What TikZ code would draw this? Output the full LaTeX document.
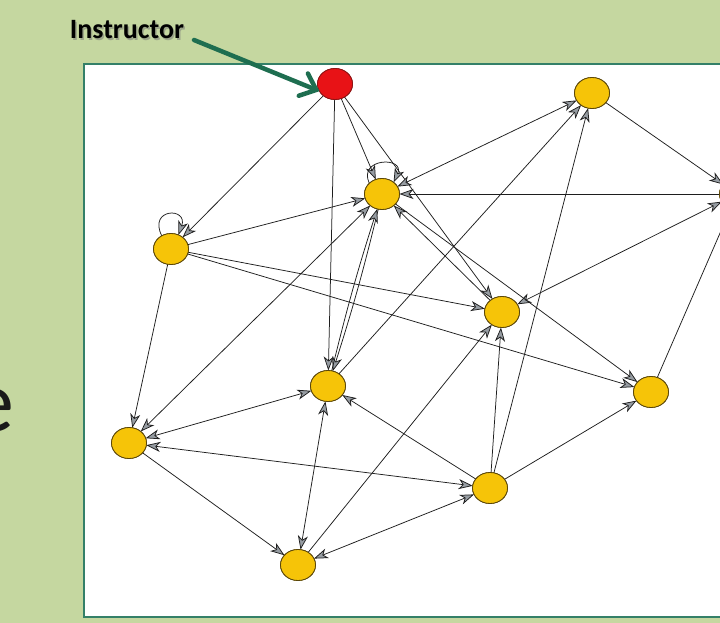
\documentclass[tikz,border=0pt]{standalone}
\usepackage{fontspec}
\newfontfamily\slidefont{Carlito}
\usetikzlibrary{arrows.meta,shapes.geometric}

\definecolor{slidegreen}{RGB}{197,215,160}
\definecolor{frameedge}{RGB}{52,128,104}
\definecolor{pointergreen}{RGB}{30,110,80}
\definecolor{nodeyellow}{RGB}{246,196,8}
\definecolor{nodeedge}{RGB}{90,70,10}
\definecolor{leadred}{RGB}{232,18,22}
\definecolor{leadedge}{RGB}{140,20,20}
\definecolor{edgeink}{RGB}{30,30,30}
\definecolor{headgray}{RGB}{150,156,162}
\definecolor{slidetext}{RGB}{25,25,25}

\begin{document}
\begin{tikzpicture}[x=1pt,y=-1pt,
  >={Stealth[length=14pt,width=10pt,inset=4pt,fill=headgray]},
  vertex/.style={ellipse, draw=nodeedge, line width=0.8pt, fill=nodeyellow,
    minimum width=35pt, minimum height=31pt, inner sep=0pt, outer sep=0pt},
  leadvertex/.style={vertex, fill=leadred, draw=leadedge},
  tie/.style={draw=edgeink, line width=0.75pt, line join=round}]

  \useasboundingbox (0,0) rectangle (720,623);
  \clip (0,0) rectangle (720,623);

  % slide background and white panel
  \fill[slidegreen] (0,0) rectangle (720,623);
  \filldraw[fill=white, draw=frameedge, line width=2pt] (84,64) rectangle (760,617);

  % tail of the slide body text
  \node[font=\slidefont\fontsize{88}{96}\selectfont, text=slidetext,
        anchor=base east, inner sep=0pt] (tailtext) at (14,431) {e};

  % vertices
  \node[leadvertex] (R) at (335,84) {};
  \node[vertex] (A) at (382,194) {};
  \node[vertex] (T) at (592,93) {};
  \node[vertex] (E) at (737,194) {};
  \node[vertex] (L) at (171,249) {};
  \node[vertex] (M) at (502,312) {};
  \node[vertex] (C) at (328,386) {};
  \node[vertex] (F) at (651,392) {};
  \node[vertex] (W) at (129,443) {};
  \node[vertex] (B) at (490,488) {};
  \node[vertex] (S) at (298,565) {};

  % directed links
  \begin{scope}[tie]
    \draw[->] (R) -- (L);
    \draw[->] (R) -- (C);
    \draw[->] (R) -- (A);
    \draw[->] (R) -- (M);
    \draw[->] (L) -- (A);
    \draw[->] (L) -- (M);
    \draw[->] (L) -- (F);
    \draw[->] (L) -- (W);
    \draw[->] (L.125) .. controls +(-14,-28) and +(10,-28) .. (L.62);
    \draw[->] (A.140) .. controls +(-12,-26) and +(12,-26) .. (A.45);
    \draw[<->] (A) -- (T);
    \draw[->] (E) -- (A);
    \draw[->] (T) -- (E);
    \draw[<->] (M) -- (E);
    \draw[->] (F) -- (E);
    \draw[->] (M) -- (A);
    \draw[->] (A) -- (F);
    \draw[->] (A) to[bend left=2] (C);
    \draw[->] (C) to[bend left=2] (A);
    \draw[<->] (A) -- (W);
    \draw[->] (C) -- (T);
    \draw[<->] (W) -- (C);
    \draw[<->] (S) -- (C);
    \draw[->] (B) -- (C);
    \draw[<->] (W) -- (B);
    \draw[->] (W) -- (S);
    \draw[<->] (B) -- (S);
    \draw[->] (S) -- (M);
    \draw[->] (B) -- (M);
    \draw[->] (B) -- (T);
    \draw[->] (B) -- (F);
  \end{scope}

  % redraw vertices above the links
  \foreach \v in {A,T,E,L,M,C,F,W,B,S}
    \node[vertex] at (\v) {};
  \node[leadvertex] at (R) {};

  % label with pointer
  \node[font=\slidefont\bfseries\fontsize{28}{32}\selectfont, text=black!55,
        opacity=0.5] at (128.5,31.5) {Instructor};
  \node[font=\slidefont\bfseries\fontsize{28}{32}\selectfont, text=black]
        (lbl) at (127,30) {Instructor};
  \coordinate (pstart) at (194,40);
  \draw[pointergreen, line width=4.5pt, line cap=round,
        -{Straight Barb[length=14pt,width=24pt,line cap=round]}]
        (pstart) -- (R.205);
\end{tikzpicture}
\end{document}
